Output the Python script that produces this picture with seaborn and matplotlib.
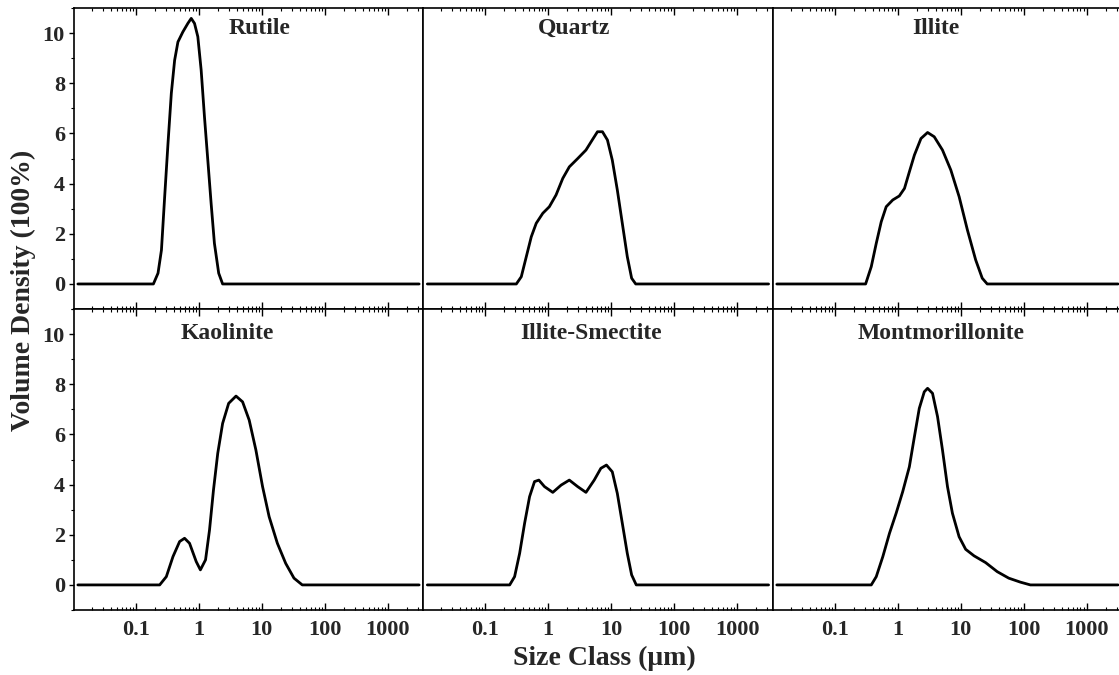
import numpy as np
import matplotlib
matplotlib.use("Agg")
import matplotlib.pyplot as plt
from matplotlib.ticker import AutoMinorLocator, LogLocator, NullFormatter
import pandas as pd
import seaborn as sns

# Datos (tamano en um, densidad en %)
rutile_x = [0.012, 0.19, 0.225, 0.255, 0.287, 0.324, 0.366, 0.413, 0.466, 0.558, 0.67, 0.758,
            0.855, 0.965, 1.09, 1.23, 1.39, 1.57, 1.77, 2.07, 2.39, 3160]
rutile_y = [0, 0, 0.43, 1.35, 3.48, 5.6, 7.6, 8.92, 9.65, 10.05, 10.39, 10.59,
            10.39, 9.86, 8.53, 6.67, 4.94, 3.21, 1.62, 0.43, 0, 0]

quartz_x = [0.012, 0.311, 0.373, 0.448, 0.537, 0.644, 0.819, 1.04, 1.33, 1.70, 2.16, 2.93,
            3.97, 5.05, 6.05, 7.26, 8.71, 10.4, 12.5, 15.0, 18.0, 21.1, 24.5, 3160]
quartz_y = [0, 0, 0.29, 1.09, 1.88, 2.42, 2.82, 3.08, 3.55, 4.21, 4.67, 5.0,
            5.34, 5.76, 6.07, 6.07, 5.74, 4.94, 3.75, 2.42, 1.09, 0.23, 0, 0]

illite_x = [0.012, 0.309, 0.38, 0.456, 0.547, 0.656, 0.834, 1.06, 1.28, 1.53, 1.84, 2.34,
            2.98, 3.80, 5.14, 6.98, 9.45, 12.8, 17.3, 22.0, 26.4, 3160]
illite_y = [0, 0, 0.69, 1.62, 2.48, 3.08, 3.35, 3.51, 3.81, 4.47, 5.14, 5.80,
            6.04, 5.87, 5.34, 4.54, 3.48, 2.15, 0.96, 0.23, 0, 0]

kaolinite_x = [0.012, 0.239, 0.305, 0.389, 0.496, 0.594, 0.713, 0.91, 1.06, 1.28, 1.48, 1.71,
               2.0, 2.39, 2.98, 3.9, 4.96, 6.32, 8.07, 10.3, 13.1, 17.7, 24, 32.5, 44, 3160]
kaolinite_y = [0, 0, 0.33, 1.13, 1.73, 1.86, 1.66, 0.93, 0.60, 1.0, 2.19, 3.78,
               5.25, 6.44, 7.24, 7.53, 7.30, 6.57, 5.38, 3.92, 2.72, 1.66, 0.86, 0.27, 0, 0]

ism_x = [0.012, 0.244, 0.292, 0.351, 0.421, 0.505, 0.605, 0.709, 0.871, 1.18, 1.6, 2.16,
         2.93, 3.97, 5.37, 6.85, 8.4, 10.4, 12.5, 15, 18, 21.1, 25, 3160]
ism_y = [0, 0, 0.33, 1.26, 2.46, 3.52, 4.12, 4.18, 3.92, 3.69, 3.98, 4.18,
         3.92, 3.69, 4.18, 4.65, 4.78, 4.51, 3.65, 2.46, 1.26, 0.40, 0, 0]

mont_x = [0.012, 0.38, 0.456, 0.58, 0.74, 0.944, 1.2, 1.53, 1.84, 2.2, 2.64, 2.98, 3.57,
          4.29, 5.14, 6.17, 7.39, 9.44, 12.0, 16.3, 24.9, 38, 58, 89, 128, 3160]
mont_y = [0, 0, 0.33, 1.13, 2.06, 2.86, 3.72, 4.71, 5.91, 7.04, 7.70, 7.84, 7.64,
          6.71, 5.38, 3.92, 2.86, 1.92, 1.42, 1.16, 0.89, 0.53, 0.27, 0.11, 0, 0]

minerales = ["Rutile", "Quartz", "Illite", "Kaolinite", "Illite-Smectite", "Montmorillonite"]
series = [(rutile_x, rutile_y), (quartz_x, quartz_y), (illite_x, illite_y),
          (kaolinite_x, kaolinite_y), (ism_x, ism_y), (mont_x, mont_y)]

xticks = [0.1, 1, 10, 100, 1000]
xtick_labels = ["0.1", "1", "10", "100", "1000"]
yticks = [0, 2, 4, 6, 8, 10]

# Posicion de los titulos dentro de cada panel (fraccion de ejes)
titulo_pos = [(0.53, 0.914), (0.43, 0.914), (0.465, 0.914),
              (0.44, 0.90), (0.48, 0.90), (0.48, 0.90)]

sns.set_theme(style="ticks")
plt.rcParams["font.family"] = ["Liberation Serif", "DejaVu Serif"]
plt.rcParams["font.weight"] = "bold"

fig, axes = plt.subplots(2, 3, figsize=(11.19, 6.75), dpi=100)
fig.subplots_adjust(left=0.0661, right=1.003, top=0.988, bottom=0.0963, wspace=0, hspace=0)

for i, ax in enumerate(axes.flat):
    xs, ys = series[i]
    df = pd.DataFrame({"size": xs, "density": ys})
    sns.lineplot(data=df, x="size", y="density", ax=ax, color="black", linewidth=2.0,
                 sort=False, estimator=None)
    ax.set_xscale("log")
    ax.set_xlim(0.0104, 3700)
    ax.set_ylim(-1, 11)
    ax.set_xlabel("")
    ax.set_ylabel("")

    ax.set_xticks(xticks)
    ax.xaxis.set_minor_locator(LogLocator(base=10, subs=np.arange(2, 10), numticks=20))
    ax.xaxis.set_minor_formatter(NullFormatter())
    ax.tick_params(axis="x", which="both", direction="in", top=True, bottom=True, color="black")
    ax.tick_params(axis="x", which="major", length=5, width=1.0, pad=7, labelsize=16)
    ax.tick_params(axis="x", which="minor", length=2.5, width=0.8)
    if i >= 3:
        ax.set_xticklabels(xtick_labels, fontweight="bold")
    else:
        ax.set_xticklabels([])

    ax.set_yticks(yticks)
    ax.yaxis.set_minor_locator(AutoMinorLocator(2))
    if i % 3 == 0:
        ax.tick_params(axis="y", which="both", direction="out", left=True, right=False,
                       color="black")
        ax.tick_params(axis="y", which="major", length=3.5, width=1.0, pad=3, labelsize=16)
        ax.tick_params(axis="y", which="minor", length=2, width=0.8)
        ax.set_yticklabels([str(v) for v in yticks], fontweight="bold")
    else:
        ax.tick_params(axis="y", which="both", left=False, right=False, labelleft=False)

    for sp in ax.spines.values():
        sp.set_visible(True)
        sp.set_color("black")
        sp.set_linewidth(1.2)

    tx, ty = titulo_pos[i]
    ax.text(tx, ty, minerales[i], transform=ax.transAxes, ha="center", va="baseline",
            fontsize=17, fontweight="bold")

fig.text(0.021, 0.57, "Volume Density (100%)", rotation=90, ha="center", va="center",
         fontsize=20, fontweight="bold")
fig.text(0.54, 0.025, "Size Class (\u03bcm)", ha="center", va="center",
         fontsize=20, fontweight="bold")

plt.savefig("out.png", dpi=100)
